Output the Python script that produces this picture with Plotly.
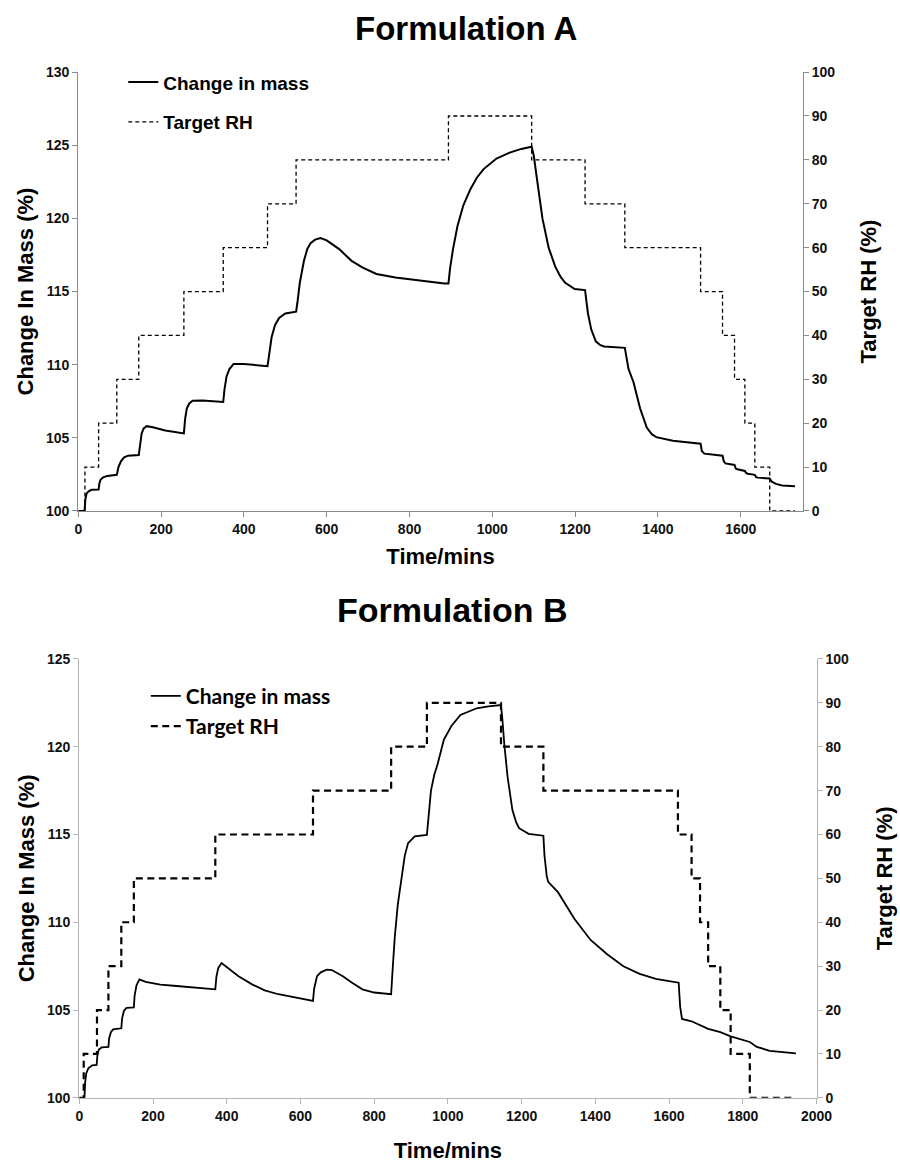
import plotly.graph_objects as go

# ---------------- Formulation A ----------------
time_A = [0, 15, 17, 20, 25, 32, 49, 51, 54, 60, 70, 93, 97, 103, 110, 120, 146, 149, 153, 158,
          165, 180, 210, 255, 258, 262, 268, 276, 300, 350, 353, 358, 365, 375, 400, 457, 461,
          467, 475, 485, 500, 515, 526, 529, 535, 545, 553, 561, 572, 585, 600, 630, 660, 687,
          720, 766, 820, 884, 894, 898, 905, 916, 930, 947, 963, 979, 1010, 1042, 1070, 1095,
          1100, 1105, 1113, 1121, 1136, 1152, 1165, 1176, 1199, 1224, 1227, 1231, 1239, 1250,
          1260, 1270, 1320, 1324, 1329, 1341, 1357, 1373, 1385, 1396, 1436, 1503, 1506, 1512,
          1556, 1559, 1563, 1585, 1588, 1592, 1610, 1613, 1617, 1634, 1637, 1641, 1670, 1675,
          1685, 1700, 1731]
mass_A = [100, 100, 100.8, 101.2, 101.35, 101.45, 101.46, 101.9, 102.15, 102.3, 102.4, 102.47,
          103.0, 103.4, 103.65, 103.78, 103.82, 104.6, 105.3, 105.65, 105.8, 105.72, 105.5,
          105.3, 106.3, 107.0, 107.35, 107.53, 107.55, 107.45, 108.3, 109.2, 109.7, 110.05,
          110.05, 109.9, 110.8, 111.9, 112.7, 113.2, 113.5, 113.6, 113.62, 114.2, 115.6, 117.1,
          117.9, 118.3, 118.55, 118.65, 118.5, 117.9, 117.1, 116.63, 116.2, 115.96, 115.75,
          115.55, 115.55, 116.6, 117.9, 119.5, 120.9, 122.0, 122.8, 123.37, 124.09, 124.5,
          124.75, 124.9, 124.3, 123.2, 121.5, 120.0, 118.0, 116.7, 116.0, 115.6, 115.17, 115.1,
          114.4, 113.5, 112.4, 111.6, 111.35, 111.25, 111.15, 110.5, 109.7, 108.8, 107.0, 105.7,
          105.25, 105.05, 104.8, 104.6, 104.1, 103.92, 103.78, 103.4, 103.25, 103.15, 102.9,
          102.85, 102.74, 102.6, 102.55, 102.47, 102.32, 102.28, 102.22, 102.0, 101.85, 101.75,
          101.7]
rh_time_A = [0, 16, 49, 93, 146, 255, 350, 457, 526, 894, 1095, 1224, 1320, 1503, 1556, 1585,
             1610, 1634, 1670, 1731]
rh_A = [0, 10, 20, 30, 40, 50, 60, 70, 80, 90, 80, 70, 60, 50, 40, 30, 20, 10, 0, 0]

# ---------------- Formulation B ----------------
time_B = [0, 14, 16, 19, 25, 35, 47, 49, 53, 61, 79, 81, 86, 92, 114, 116, 121, 128, 148, 150,
          155, 163, 180, 220, 264, 320, 369, 372, 377, 386, 400, 432, 470, 503, 540, 574, 634,
          637, 645, 655, 671, 685, 715, 740, 768, 800, 846, 850, 856, 864, 874, 883, 892, 910,
          943, 947, 954, 963, 972, 989, 1010, 1034, 1078, 1110, 1144, 1148, 1153, 1162, 1175,
          1185, 1193, 1219, 1259, 1262, 1268, 1272, 1281, 1299, 1343, 1387, 1432, 1476, 1520,
          1564, 1600, 1626, 1630, 1635, 1661, 1688, 1706, 1739, 1767, 1819, 1838, 1873, 1910,
          1944]
mass_B = [100, 100, 100.9, 101.4, 101.7, 101.85, 101.87, 102.4, 102.75, 102.88, 102.9, 103.4,
          103.75, 103.9, 103.96, 104.5, 104.95, 105.12, 105.15, 105.8, 106.4, 106.74, 106.6,
          106.45, 106.37, 106.28, 106.18, 106.9, 107.4, 107.68, 107.45, 106.93, 106.45, 106.12,
          105.9, 105.75, 105.52, 106.2, 106.93, 107.15, 107.3, 107.28, 106.93, 106.55, 106.18,
          106.0, 105.9, 107.3, 109.2, 111.0, 112.64, 113.8, 114.51, 114.89, 114.98, 115.8,
          117.5, 118.4, 119.0, 120.4, 121.2, 121.81, 122.19, 122.3, 122.37, 121.5, 120.13,
          118.26, 116.39, 115.7, 115.36, 115.04, 114.93, 113.8, 112.64, 112.3, 112.08, 111.7,
          110.2, 108.99, 108.18, 107.49, 107.06, 106.78, 106.65, 106.56, 105.2, 104.49, 104.36,
          104.12, 103.93, 103.74, 103.5, 103.18, 102.9, 102.68, 102.58, 102.53]
rh_time_B = [0, 12, 48, 79, 114, 148, 369, 634, 846, 943, 1144, 1259, 1624, 1661, 1684, 1706,
             1739, 1767, 1819, 1940]
rh_B = [0, 10, 20, 30, 40, 50, 60, 70, 80, 90, 80, 70, 60, 50, 40, 30, 20, 10, 0, 0]

mass_name = "Change in mass"
rh_name = "Target RH"
titles = ["Formulation A", "Formulation B"]
x_title = "Time/mins"
y_title = "Change In Mass (%)"
y2_title = "Target RH (%)"

W, H = 900, 1165
FONT = "Liberation Sans, Arial, sans-serif"

fig = go.Figure()
fig.add_trace(go.Scatter(x=time_A, y=mass_A, mode="lines", name=mass_name,
                         line=dict(color="black", width=2), xaxis="x", yaxis="y",
                         legend="legend", legendgroup="a1"))
fig.add_trace(go.Scatter(x=rh_time_A, y=rh_A, mode="lines", name=rh_name, line_shape="hv",
                         line=dict(color="black", width=1.3, dash="4px,3px"), xaxis="x",
                         yaxis="y2", legend="legend", legendgroup="a2"))
fig.add_trace(go.Scatter(x=time_B, y=mass_B, mode="lines", name=mass_name,
                         line=dict(color="black", width=1.8), xaxis="x2", yaxis="y3",
                         legend="legend2", legendgroup="b1"))
fig.add_trace(go.Scatter(x=rh_time_B, y=rh_B, mode="lines", name=rh_name, line_shape="hv",
                         line=dict(color="black", width=2.2, dash="7px,4.5px"), xaxis="x2",
                         yaxis="y4", legend="legend2", legendgroup="b2"))

tickfont = dict(family=FONT, size=14, color="#111", weight="bold")
titlefont = dict(family=FONT, size=22, color="black", weight="bold")


def ax(linecolor, **kw):
    d = dict(showline=True, linecolor=linecolor, linewidth=1.2, ticks="outside", ticklen=5,
             tickcolor=linecolor, tickwidth=1.2, showgrid=False, zeroline=False,
             tickfont=tickfont, title_font=titlefont)
    d.update(kw)
    return d


gA, gB = "#8a8a8a", "#b4b4b4"

fig.update_layout(
    width=W, height=H, autosize=False, margin=dict(l=0, r=0, t=0, b=0),
    paper_bgcolor="white", plot_bgcolor="white", showlegend=True,
    xaxis=ax(gA, domain=[76 / W, 817 / W], anchor="y", range=[0, 1750], dtick=200,
             title=dict(text=x_title, standoff=12)),
    yaxis=ax(gA, domain=[1 - 510 / H, 1 - 65 / H], anchor="x", range=[100, 130], dtick=5,
             title=dict(text=y_title, standoff=6)),
    yaxis2=ax(gA, overlaying="y", side="right", anchor="x", range=[0, 100], dtick=10,
              title=dict(text=y2_title, standoff=26)),
    xaxis2=ax(gB, domain=[77 / W, 831 / W], anchor="y3", range=[0, 2000], dtick=200,
              title=dict(text=x_title, standoff=19)),
    yaxis3=ax(gB, domain=[1 - 1105 / H, 1 - 660 / H], anchor="x2", range=[100, 125], dtick=5,
              title=dict(text=y_title, standoff=6)),
    yaxis4=ax(gB, overlaying="y3", side="right", anchor="x2", range=[0, 100], dtick=10,
              title=dict(text=y2_title, standoff=28)),
    legend=dict(x=122 / W, y=1 - 56 / H, xanchor="left", yanchor="top",
                bgcolor="rgba(0,0,0,0)", traceorder="grouped", tracegroupgap=12,
                font=dict(family=FONT, size=19, color="black", weight="bold")),
    legend2=dict(x=145 / W, y=1 - 677 / H, xanchor="left", yanchor="top",
                 bgcolor="rgba(0,0,0,0)", traceorder="grouped", tracegroupgap=0,
                 font=dict(family="Lato, sans-serif", size=21, color="black", weight="bold")),
    annotations=[
        dict(text=titles[0], x=473 / W, y=1 - 21 / H, xref="paper", yref="paper",
             showarrow=False, xanchor="center", yanchor="middle",
             font=dict(family=FONT, size=33, color="black", weight="bold")),
        dict(text=titles[1], x=458 / W, y=1 - 610 / H, xref="paper", yref="paper",
             showarrow=False, xanchor="center", yanchor="middle",
             font=dict(family=FONT, size=34, color="black", weight="bold")),
    ],
)

fig.write_html("out.html")
